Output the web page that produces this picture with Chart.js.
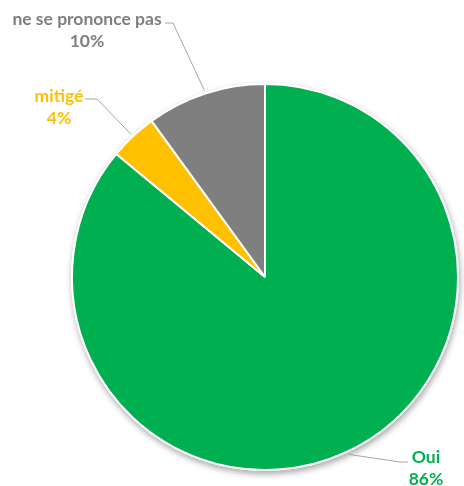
<!DOCTYPE html>
<html>
<head>
<meta charset="utf-8">
<script src="https://cdn.jsdelivr.net/npm/chart.js@4.4.0/dist/chart.umd.min.js"></script>
<style>
    html, body { margin: 0; padding: 0; background: #ffffff; }
    #wrap { width: 464px; height: 486px; position: relative; }
</style>
</head>
<body>
<div id="wrap"><canvas id="chart"></canvas></div>
<script>
    // data
    var categories = ['Oui', 'mitigé', 'ne se prononce pas'];
    var values = [86, 4, 10];
    var pctLabels = ['86%', '4%', '10%'];
    var colors = ['#00B050', '#FFC000', '#7F7F7F'];

    // where each label sits (text centre) and where its leader line bends
    var labelPos = [
        {x: 426, y: 457, elbowX: 400, elbowY: 462, endX: 408},
        {x: 59, y: 96, elbowX: 97, elbowY: 99, endX: 85},
        {x: 87, y: 19, elbowX: 173, elbowY: 23, endX: 165}
    ];

    var shadowPlugin = {
        id: 'pieShadow',
        beforeDatasetsDraw: function (chart) {
            var arc = chart.getDatasetMeta(0).data[0];
            if (!arc) return;
            var ctx = chart.ctx;
            ctx.save();
            ctx.shadowColor = 'rgba(0,0,0,0.35)';
            ctx.shadowBlur = 6;
            ctx.shadowOffsetX = 1;
            ctx.shadowOffsetY = 3;
            ctx.fillStyle = '#ffffff';
            ctx.beginPath();
            ctx.arc(arc.x, arc.y, arc.outerRadius + 1, 0, Math.PI * 2);
            ctx.fill();
            ctx.restore();
        }
    };

    var labelPlugin = {
        id: 'pieLabels',
        afterDatasetsDraw: function (chart) {
            var ctx = chart.ctx;
            var meta = chart.getDatasetMeta(0);
            ctx.save();
            meta.data.forEach(function (arc, i) {
                var p = labelPos[i];
                var mid = (arc.startAngle + arc.endAngle) / 2;
                var r = arc.outerRadius + 3;
                var ax = arc.x + Math.cos(mid) * r;
                var ay = arc.y + Math.sin(mid) * r;
                ctx.strokeStyle = '#A6A6A6';
                ctx.lineWidth = 1;
                ctx.beginPath();
                ctx.moveTo(ax, ay);
                ctx.lineTo(p.elbowX, p.elbowY);
                ctx.lineTo(p.endX, p.elbowY);
                ctx.stroke();

                ctx.fillStyle = colors[i];
                ctx.font = 'bold 17.5px Lato';
                ctx.textAlign = 'center';
                ctx.textBaseline = 'middle';
                ctx.fillText(categories[i], p.x, p.y);
                ctx.fillText(pctLabels[i], p.x, p.y + 22);
            });
            ctx.restore();
        }
    };

    new Chart(document.getElementById('chart').getContext('2d'), {
        type: 'pie',
        data: {
            labels: categories,
            datasets: [{
                data: values,
                backgroundColor: colors,
                borderColor: '#ffffff',
                borderWidth: 2,
                radius: 193
            }]
        },
        options: {
            responsive: true,
            maintainAspectRatio: false,
            animation: false,
            layout: {padding: {left: 70, right: 4, top: 78, bottom: 10}},
            plugins: {
                legend: {display: false},
                tooltip: {enabled: false}
            }
        },
        plugins: [shadowPlugin, labelPlugin]
    });
</script>
</body>
</html>
